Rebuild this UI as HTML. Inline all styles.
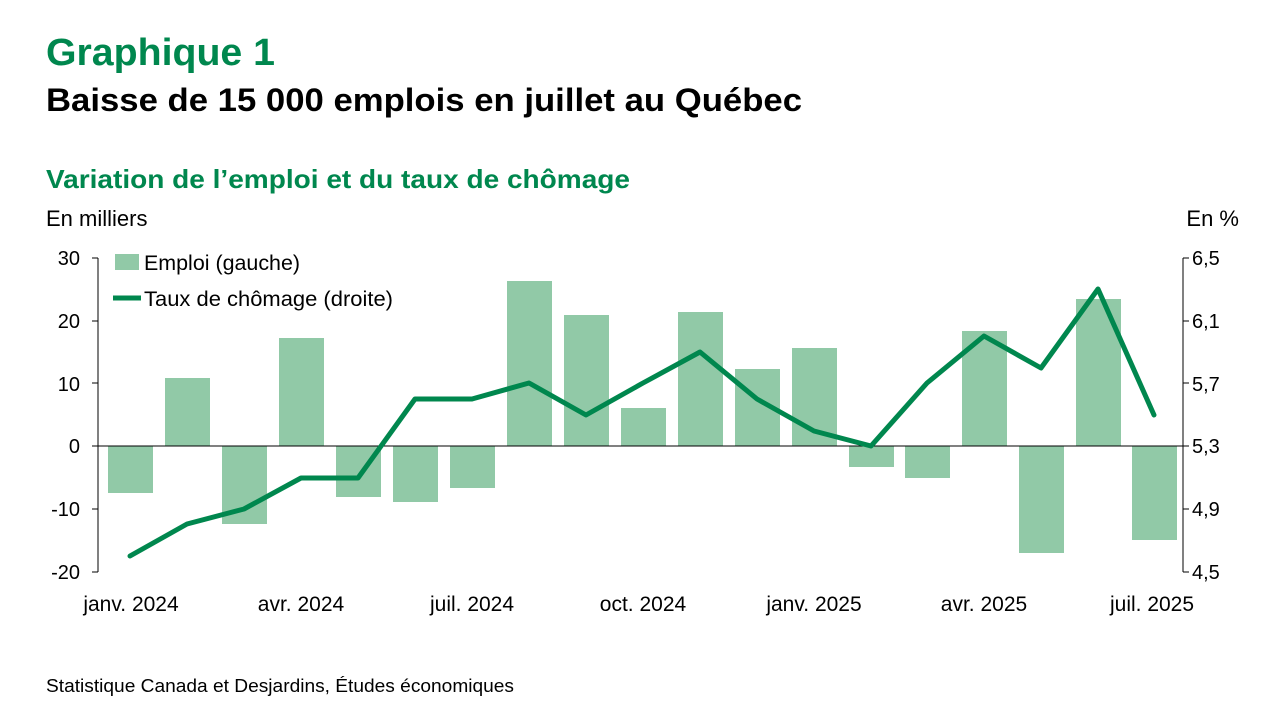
<!DOCTYPE html>
<html><head><meta charset="utf-8"><style>
body{margin:0;background:#fff;font-family:"Liberation Sans",sans-serif;}
</style></head><body>
<svg width="1280" height="720" xmlns="http://www.w3.org/2000/svg" font-family="Liberation Sans, sans-serif">
<rect width="1280" height="720" fill="#fff"/>
<text x="46" y="65" font-size="38" font-weight="bold" fill="#00874e" textLength="229" lengthAdjust="spacingAndGlyphs">Graphique 1</text>
<text x="46" y="111" font-size="32" font-weight="bold" fill="#000" textLength="756" lengthAdjust="spacingAndGlyphs">Baisse de 15 000 emplois en juillet au Québec</text>
<text x="46" y="188" font-size="26" font-weight="bold" fill="#00874e" textLength="584" lengthAdjust="spacingAndGlyphs">Variation de l’emploi et du taux de chômage</text>
<text x="46" y="226" font-size="22" fill="#000">En milliers</text>
<text x="1239" y="226" font-size="22" fill="#000" text-anchor="end">En %</text>
<g font-size="20" fill="#000" text-anchor="end">
<text x="80" y="265">30</text><text x="80" y="328">20</text><text x="80" y="391">10</text>
<text x="80" y="453">0</text><text x="80" y="516">-10</text><text x="80" y="579">-20</text>
</g>
<g font-size="20" fill="#000" text-anchor="start">
<text x="1192" y="265">6,5</text><text x="1192" y="328">6,1</text><text x="1192" y="391">5,7</text>
<text x="1192" y="453">5,3</text><text x="1192" y="516">4,9</text><text x="1192" y="579">4,5</text>
</g>
<g stroke="#000" stroke-width="1">
<line x1="98" y1="258" x2="98" y2="572"/>
<line x1="1183" y1="258" x2="1183" y2="572"/>
<line x1="92" y1="258" x2="98" y2="258"/><line x1="92" y1="321" x2="98" y2="321"/><line x1="92" y1="383" x2="98" y2="383"/><line x1="92" y1="446" x2="98" y2="446"/><line x1="92" y1="509" x2="98" y2="509"/><line x1="92" y1="572" x2="98" y2="572"/>
<line x1="1183" y1="258" x2="1189" y2="258"/><line x1="1183" y1="321" x2="1189" y2="321"/><line x1="1183" y1="383" x2="1189" y2="383"/><line x1="1183" y1="446" x2="1189" y2="446"/><line x1="1183" y1="509" x2="1189" y2="509"/><line x1="1183" y1="572" x2="1189" y2="572"/>
</g>
<g fill="#91c9a7">
<rect x="108" y="446" width="45" height="47"/>
<rect x="165" y="378" width="45" height="68"/>
<rect x="222" y="446" width="45" height="78"/>
<rect x="279" y="338" width="45" height="108"/>
<rect x="336" y="446" width="45" height="51"/>
<rect x="393" y="446" width="45" height="56"/>
<rect x="450" y="446" width="45" height="42"/>
<rect x="507" y="281" width="45" height="165"/>
<rect x="564" y="315" width="45" height="131"/>
<rect x="621" y="408" width="45" height="38"/>
<rect x="678" y="312" width="45" height="134"/>
<rect x="735" y="369" width="45" height="77"/>
<rect x="792" y="348" width="45" height="98"/>
<rect x="849" y="446" width="45" height="21"/>
<rect x="905" y="446" width="45" height="32"/>
<rect x="962" y="331" width="45" height="115"/>
<rect x="1019" y="446" width="45" height="107"/>
<rect x="1076" y="299" width="45" height="147"/>
<rect x="1132" y="446" width="45" height="94"/>
</g>
<line x1="98" y1="446" x2="1183" y2="446" stroke="#000" stroke-width="1"/>
<polyline fill="none" stroke="#00874e" stroke-width="5" stroke-linejoin="round" stroke-linecap="round" points="130,556 187,524 244,509 301,478 358,478 415,399 472,399 529,383 586,415 643,383 700,352 757,399 814,431 871,446 927,383 984,336 1041,368 1098,289 1154,415"/>
<rect x="115" y="254" width="24" height="16" fill="#91c9a7"/>
<text x="144" y="270" font-size="21" textLength="156" lengthAdjust="spacingAndGlyphs">Emploi (gauche)</text>
<line x1="113" y1="298" x2="141" y2="298" stroke="#00874e" stroke-width="5"/>
<text x="144" y="306" font-size="21" textLength="249" lengthAdjust="spacingAndGlyphs">Taux de chômage (droite)</text>
<g font-size="21" fill="#000" text-anchor="middle">
<text x="131" y="611">janv. 2024</text><text x="301" y="611">avr. 2024</text><text x="472" y="611">juil. 2024</text>
<text x="643" y="611">oct. 2024</text><text x="814" y="611">janv. 2025</text><text x="984" y="611">avr. 2025</text><text x="1152" y="611">juil. 2025</text>
</g>
<text x="46" y="692" font-size="18" textLength="468" lengthAdjust="spacingAndGlyphs">Statistique Canada et Desjardins, Études économiques</text>
</svg>
</body></html>
